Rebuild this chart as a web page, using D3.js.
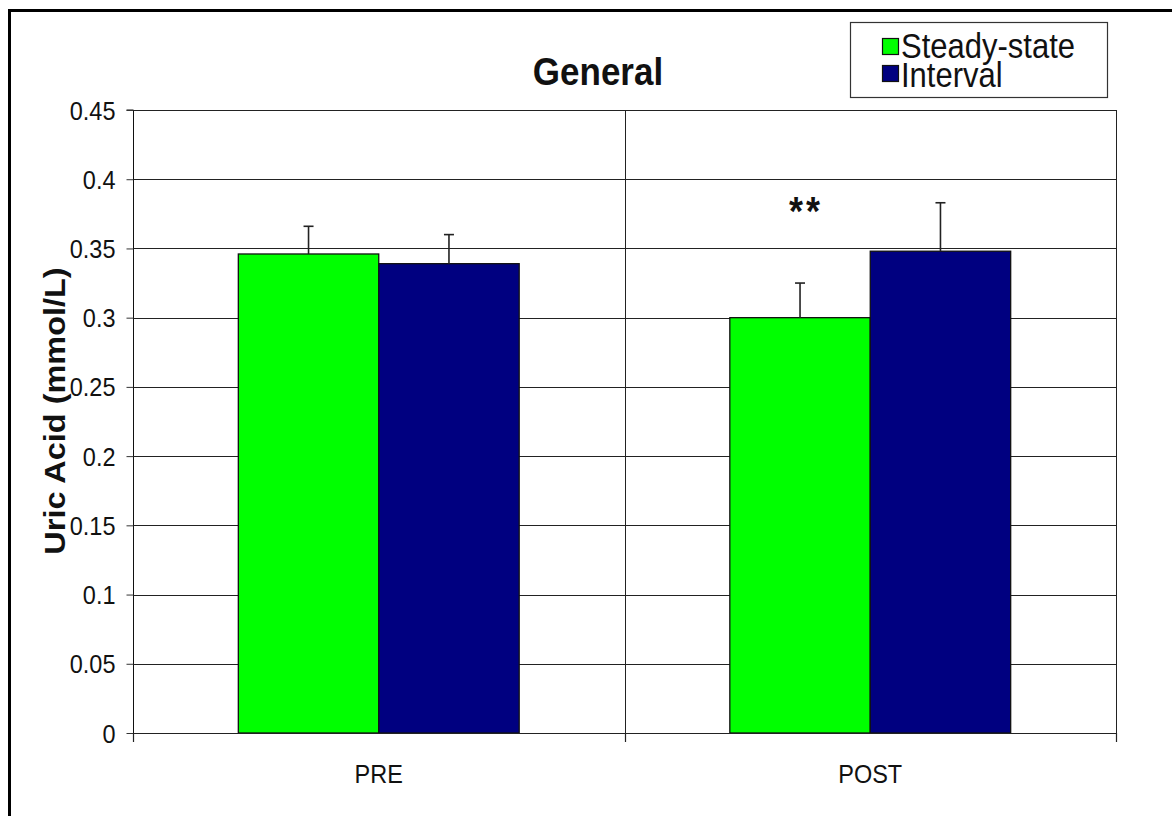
<!DOCTYPE html>
<html>
<head>
<meta charset="utf-8">
<script src="https://cdn.jsdelivr.net/npm/d3@7"></script>
<style>
  html, body { margin: 0; padding: 0; background: #fff; }
  svg { display: block; font-family: "Liberation Sans", Arial, sans-serif; }
</style>
</head>
<body>
<svg id="chart" width="1172" height="816"></svg>
<script>
// Uric acid by phase and training protocol
const categories = ["PRE", "POST"];
const seriesNames = ["Steady-state", "Interval"];
const steadyState = [0.346, 0.300];
const steadyStateErr = [0.020, 0.025];
const interval = [0.339, 0.348];
const intervalErr = [0.021, 0.035];
const yTicks = [0, 0.05, 0.1, 0.15, 0.2, 0.25, 0.3, 0.35, 0.4, 0.45];
const yTickLabels = ["0", "0.05", "0.1", "0.15", "0.2", "0.25", "0.3", "0.35", "0.4", "0.45"];
const seriesColors = ["#00ff00", "#000080"];
const annotations = [{ category: "POST", series: "Steady-state", text: "**", value: 0.383 }];

const rows = categories.map((c, i) => ({
  category: c,
  values: [
    { series: seriesNames[0], value: steadyState[i], err: steadyStateErr[i] },
    { series: seriesNames[1], value: interval[i], err: intervalErr[i] }
  ]
}));

const svg = d3.select("#chart");
const SY = 1.12; // text is drawn slightly taller than wide

const plot = { left: 133, right: 1116, top: 110, bottom: 733 };

const x0 = d3.scaleBand().domain(categories).range([plot.left, plot.right]).padding(0);
const x1 = d3.scaleBand().domain(seriesNames).range([0, x0.bandwidth()])
  .paddingInner(0).paddingOuter(0.75);
const y = d3.scaleLinear().domain([0, 0.45]).range([plot.bottom, plot.top]);
const color = d3.scaleOrdinal().domain(seriesNames).range(seriesColors);

function stretchedText(sel, x, yPos, rotate) {
  sel.attr("transform", `translate(${x},${yPos})` + (rotate ? ` rotate(${rotate})` : "") +
    (rotate ? ` scale(${SY},1)` : ` scale(1,${SY})`));
  return sel;
}

// Outer frame
svg.append("rect")
  .attr("x", 9.5).attr("y", 10.5).attr("width", 1200).attr("height", 900)
  .attr("fill", "none").attr("stroke", "#000").attr("stroke-width", 3);

// Horizontal gridlines
svg.append("g").selectAll("line").data(yTicks).join("line")
  .attr("x1", plot.left).attr("x2", plot.right)
  .attr("y1", d => Math.round(y(d)) + 0.5).attr("y2", d => Math.round(y(d)) + 0.5)
  .attr("stroke", "#222").attr("stroke-width", 1);

// Vertical category dividers and right border
const dividers = categories.map(c => x0(c) + x0.bandwidth());
svg.append("g").selectAll("line").data(dividers).join("line")
  .attr("x1", d => Math.round(d) + 0.5).attr("x2", d => Math.round(d) + 0.5)
  .attr("y1", plot.top).attr("y2", plot.bottom)
  .attr("stroke", "#222").attr("stroke-width", 1);

// Bars
const groups = svg.append("g").selectAll("g").data(rows).join("g")
  .attr("transform", d => `translate(${x0(d.category)},0)`);

groups.selectAll("rect").data(d => d.values).join("rect")
  .attr("x", d => x1(d.series))
  .attr("y", d => y(d.value))
  .attr("width", x1.bandwidth())
  .attr("height", d => y(0) - y(d.value))
  .attr("fill", d => color(d.series))
  .attr("stroke", "#111").attr("stroke-width", 1.3);

// Error bars (upper only)
const eb = groups.selectAll("g.err").data(d => d.values).join("g").attr("class", "err");
eb.append("line")
  .attr("x1", d => x1(d.series) + x1.bandwidth() / 2)
  .attr("x2", d => x1(d.series) + x1.bandwidth() / 2)
  .attr("y1", d => y(d.value)).attr("y2", d => y(d.value + d.err))
  .attr("stroke", "#222").attr("stroke-width", 1.6);
eb.append("line")
  .attr("x1", d => x1(d.series) + x1.bandwidth() / 2 - 5)
  .attr("x2", d => x1(d.series) + x1.bandwidth() / 2 + 5)
  .attr("y1", d => y(d.value + d.err)).attr("y2", d => y(d.value + d.err))
  .attr("stroke", "#222").attr("stroke-width", 1.6);

// Y axis
const yAxis = d3.axisLeft(y).tickValues(yTicks)
  .tickFormat((d, i) => yTickLabels[i]).tickSize(7).tickPadding(11);
const gy = svg.append("g").attr("transform", `translate(${plot.left + 0.5},0)`).call(yAxis);
gy.select(".domain").attr("stroke", "#111").attr("d", `M-7,${plot.top}H0V${plot.bottom}`);
gy.selectAll(".tick line").attr("stroke", "#333");
gy.selectAll(".tick text")
  .attr("font-size", 23.5).attr("fill", "#111")
  .attr("dy", null).attr("y", 0)
  .each(function() {
    d3.select(this).attr("transform", `translate(0,9) scale(1,${SY})`);
  });

// X axis baseline and tick marks
svg.append("line")
  .attr("x1", plot.left).attr("x2", plot.right)
  .attr("y1", plot.bottom + 0.5).attr("y2", plot.bottom + 0.5)
  .attr("stroke", "#222").attr("stroke-width", 1.2);
const xTickPos = [plot.left].concat(dividers);
svg.append("g").selectAll("line").data(xTickPos).join("line")
  .attr("x1", d => Math.round(d) + 0.5).attr("x2", d => Math.round(d) + 0.5)
  .attr("y1", plot.bottom).attr("y2", plot.bottom + 9)
  .attr("stroke", "#222").attr("stroke-width", 1.2);

// Category labels
svg.append("g").selectAll("text").data(categories).join("text")
  .attr("text-anchor", "middle").attr("font-size", 23.5).attr("fill", "#111")
  .text(d => d)
  .each(function(d) { stretchedText(d3.select(this), x0(d) + x0.bandwidth() / 2, 783); });

// Y axis title
stretchedText(svg.append("text"), 65, 411, -90)
  .attr("text-anchor", "middle").attr("font-size", 29).attr("font-weight", "bold")
  .attr("fill", "#111").text("Uric Acid (mmol/L)");

// Chart title
stretchedText(svg.append("text"), 598, 85)
  .attr("text-anchor", "middle").attr("font-size", 35).attr("font-weight", "bold")
  .attr("fill", "#111").text("General");

// Significance marker
annotations.forEach(a => {
  const cx = x0(a.category) + x1(a.series) + x1.bandwidth() / 2 + 6;
  stretchedText(svg.append("text"), cx, y(a.value) + 22)
    .attr("text-anchor", "middle").attr("font-size", 36).attr("font-weight", "bold")
    .attr("letter-spacing", 3).attr("fill", "#111").text(a.text);
});

// Legend
const legend = svg.append("g");
legend.append("rect")
  .attr("x", 850.5).attr("y", 22.5).attr("width", 257).attr("height", 75)
  .attr("fill", "#fff").attr("stroke", "#333").attr("stroke-width", 1.2);
const li = legend.selectAll("g.item").data(seriesNames).join("g").attr("class", "item");
li.append("rect")
  .attr("x", 882.5).attr("y", (d, i) => 38.5 + i * 27)
  .attr("width", 16).attr("height", 16)
  .attr("fill", d => color(d)).attr("stroke", "#111").attr("stroke-width", 1.2);
li.append("text")
  .attr("font-size", 31).attr("fill", "#111").text(d => d)
  .each(function(d, i) { stretchedText(d3.select(this), 901, 58 + i * 29); });
</script>
</body>
</html>
